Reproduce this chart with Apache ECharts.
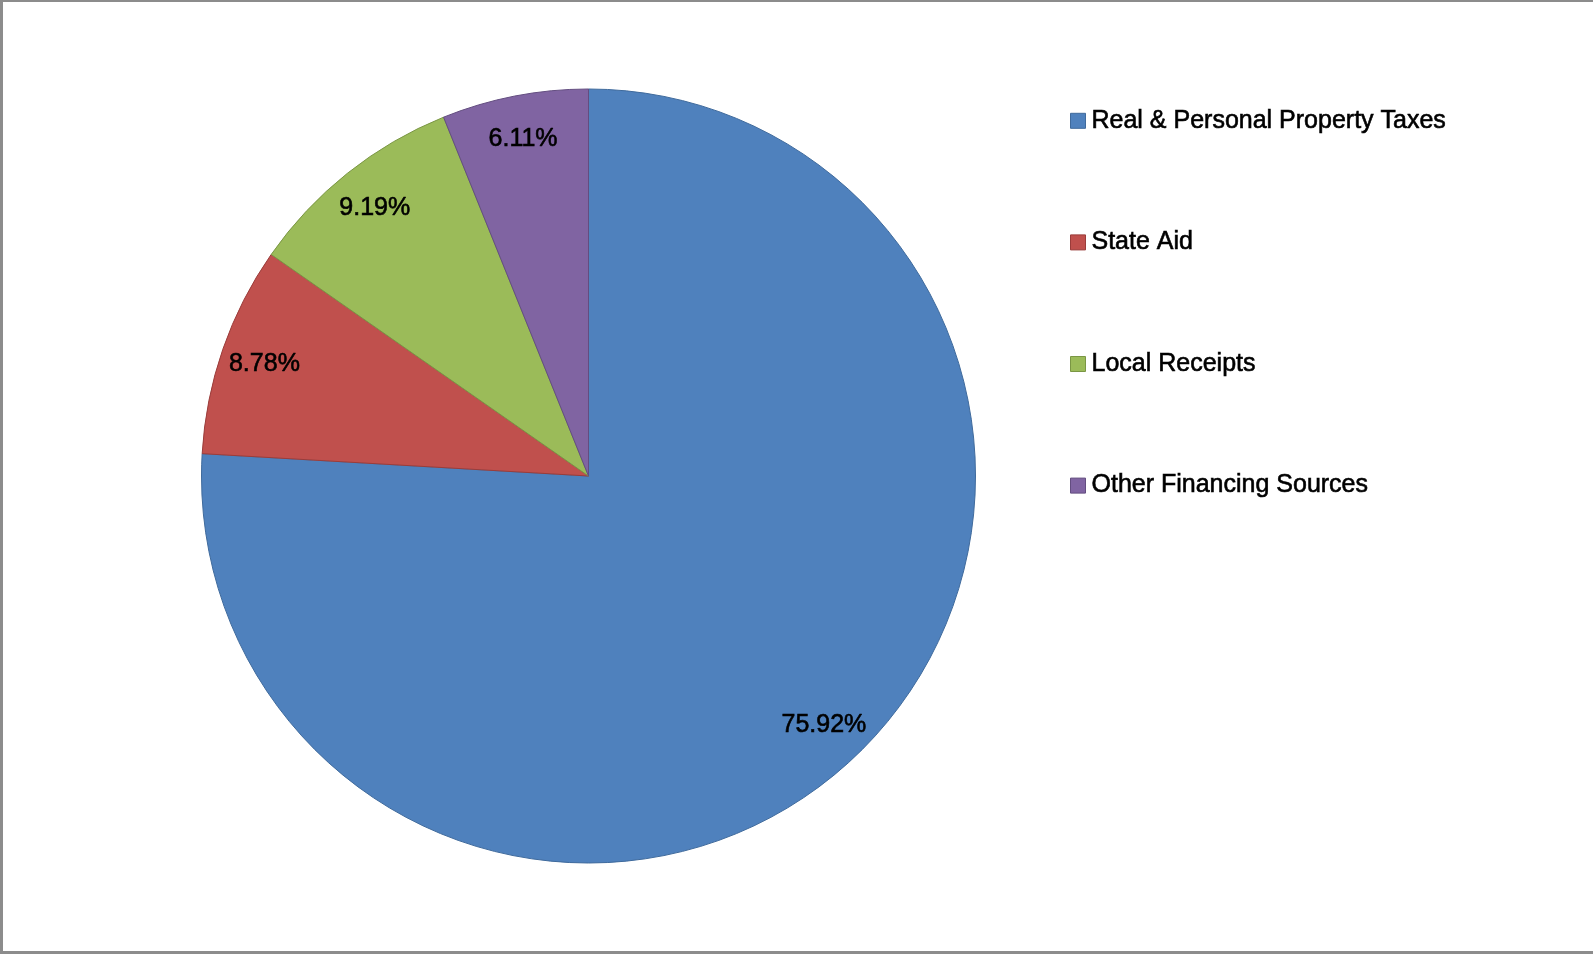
<!DOCTYPE html>
<html>
<head>
<meta charset="utf-8">
<script src="https://cdn.jsdelivr.net/npm/echarts@6/dist/echarts.min.js"></script>
<style>
  html, body { margin: 0; padding: 0; background: #fff; }
  #chart { width: 1593px; height: 954px; position: absolute; left: 0; top: 0; }
  #frame { position: absolute; left: 0; top: 0; width: 1593px; height: 954px; box-sizing: border-box;
           border-left: 3px solid #8c8c8c; border-top: 2px solid #8c8c8c; border-bottom: 3px solid #8c8c8c; pointer-events: none; }
</style>
</head>
<body>
<div id="chart"></div>
<div id="frame"></div>
<script>
const categories = ['Real & Personal Property Taxes', 'State Aid', 'Local Receipts', 'Other Financing Sources'];
const values = [75.92, 8.78, 9.19, 6.11];
const colors = ['#4F81BD', '#C0504D', '#9BBB59', '#8064A2'];
const borderColors = ['#3f6a9c', '#9a3c3a', '#7a9644', '#634d80'];

const chart = echarts.init(document.getElementById('chart'), null, { renderer: 'canvas' });
const FONT = '"Liberation Sans", Arial, sans-serif';

const mainData = categories.map((c, i) => ({
  name: c, value: values[i],
  itemStyle: { color: colors[i], borderColor: borderColors[i], borderWidth: 1 }
}));
const labelData = categories.map((c, i) => ({ name: c, value: values[i] }));

chart.setOption({
  animation: false,
  legend: {
    orient: 'vertical',
    left: 1065, top: 103,
    itemWidth: 15, itemHeight: 15, itemGap: 96,
    icon: 'rect',
    data: categories,
    itemStyle: { borderWidth: 1, borderColor: 'inherit' },
    textStyle: { fontFamily: FONT, fontSize: 25, color: '#000', padding: [0, 0, 0, 1],
                 textBorderColor: '#000', textBorderWidth: 0.6 }
  },
  series: [
    {
      type: 'pie',
      center: [588.5, 476],
      radius: [0, 387],
      startAngle: 90,
      clockwise: true,
      data: mainData,
      label: { show: false },
      labelLine: { show: false },
      emphasis: { disabled: true }
    },
    {
      type: 'pie',
      center: [588.5, 476],
      radius: [300, 380],
      startAngle: 90,
      clockwise: true,
      silent: true,
      data: labelData,
      itemStyle: { color: 'rgba(0,0,0,0)', borderWidth: 0 },
      label: {
        show: true, position: 'inside',
        formatter: p => p.value.toFixed(2) + '%',
        fontFamily: FONT, fontSize: 25, color: '#000',
        textBorderColor: '#000', textBorderWidth: 0.6
      },
      labelLine: { show: false },
      emphasis: { disabled: true }
    }
  ]
});
</script>
</body>
</html>
